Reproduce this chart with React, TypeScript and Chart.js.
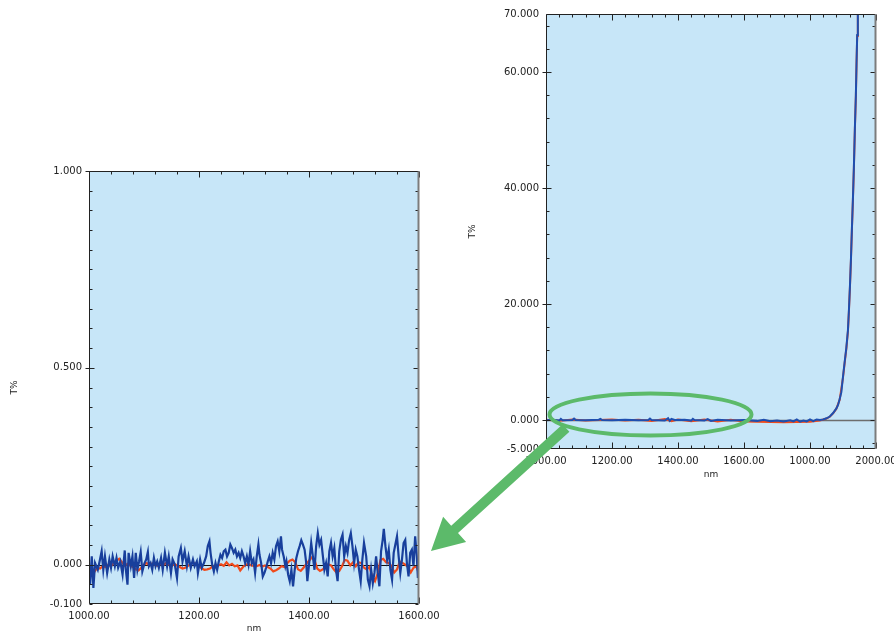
import React, { useEffect, useRef } from "react";
import { Chart, registerables } from "chart.js";

Chart.register(...registerables);

// ---------- axis ticks ----------
const LEFT_X_TICKS = [1000, 1200, 1400, 1600];
const LEFT_Y_TICKS = [-0.1, 0, 0.5, 1.0];
const RIGHT_X_TICKS = [1000, 1200, 1400, 1600, 1800, 2000];
const RIGHT_X_LABELS = ["1000.00", "1200.00", "1400.00", "1600.00", "1000.00", "2000.00"];
const RIGHT_Y_TICKS = [-5, 0, 20, 40, 60, 70];

// ---------- spectra: [wavelength nm, T%] ----------
// zoomed view 1000–1600 nm, sample A (blue)
const LEFT_BLUE: [number, number][] = [
  [1000, -0.004], [1002, -0.05], [1005, 0.021], [1008, -0.059], [1011, 0.004], [1016, -0.013],
  [1020, 0.013], [1023, 0.034], [1026, -0.013], [1029, 0.021], [1033, -0.021], [1037, 0.013],
  [1040, -0.008], [1043, 0.021], [1047, -0.004], [1050, 0.017], [1053, -0.008], [1057, 0.008],
  [1061, -0.025], [1065, 0.036], [1067, -0.013], [1070, -0.051], [1072, 0.03], [1076, -0.004],
  [1079, 0.021], [1082, -0.034], [1085, 0.03], [1088, -0.013], [1091, 0.008], [1094, 0.032],
  [1097, -0.017], [1101, 0.004], [1104, 0.013], [1107, 0.032], [1109, -0.004], [1112, 0.004],
  [1115, -0.013], [1118, 0.017], [1121, -0.004], [1124, 0.008], [1127, -0.008], [1131, 0.017],
  [1134, -0.013], [1138, 0.03], [1142, -0.004], [1145, 0.021], [1149, -0.021], [1152, 0.013],
  [1156, 0.0], [1160, -0.034], [1163, 0.021], [1167, 0.042], [1170, 0.008], [1174, 0.034],
  [1178, -0.004], [1181, 0.021], [1185, -0.008], [1189, 0.013], [1192, -0.004], [1196, 0.008],
  [1198, -0.021], [1202, 0.013], [1205, -0.008], [1209, 0.004], [1213, 0.021], [1216, 0.047],
  [1219, 0.059], [1221, 0.03], [1224, 0.0], [1227, -0.017], [1230, 0.004], [1233, -0.013],
  [1236, 0.008], [1239, 0.025], [1242, 0.017], [1245, 0.034], [1248, 0.038], [1251, 0.021],
  [1254, 0.03], [1257, 0.051], [1260, 0.042], [1263, 0.03], [1266, 0.038], [1269, 0.021],
  [1272, 0.03], [1275, 0.017], [1278, 0.034], [1281, 0.021], [1284, 0.004], [1287, 0.021],
  [1290, 0.0], [1293, 0.034], [1296, 0.004], [1299, 0.013], [1302, -0.021], [1305, 0.021],
  [1308, 0.051], [1310, 0.025], [1313, 0.004], [1316, -0.03], [1319, -0.021], [1322, -0.008],
  [1325, 0.008], [1328, 0.021], [1331, 0.004], [1334, 0.03], [1337, 0.013], [1340, 0.047],
  [1343, 0.059], [1346, 0.034], [1349, 0.072], [1351, 0.038], [1354, 0.021], [1357, -0.004],
  [1359, 0.008], [1362, -0.025], [1365, -0.042], [1368, -0.013], [1371, -0.055], [1374, -0.013],
  [1377, 0.017], [1380, 0.034], [1383, 0.047], [1386, 0.062], [1389, 0.051], [1392, 0.038],
  [1395, 0.004], [1397, -0.042], [1401, 0.013], [1404, 0.055], [1407, 0.021], [1410, -0.013],
  [1413, 0.047], [1416, 0.08], [1419, 0.051], [1422, 0.063], [1425, 0.025], [1428, -0.013],
  [1431, 0.004], [1434, -0.03], [1437, 0.034], [1440, 0.055], [1443, 0.021], [1446, 0.042],
  [1449, -0.013], [1452, -0.042], [1455, 0.034], [1458, 0.063], [1461, 0.076], [1464, 0.021],
  [1467, 0.047], [1470, 0.03], [1473, 0.063], [1476, 0.08], [1479, 0.047], [1482, 0.004],
  [1485, 0.038], [1488, 0.021], [1491, -0.013], [1494, -0.042], [1497, 0.013], [1500, 0.055],
  [1504, 0.021], [1507, -0.038], [1510, -0.055], [1513, -0.013], [1516, -0.047], [1519, -0.021],
  [1522, 0.021], [1525, -0.021], [1528, -0.055], [1531, 0.034], [1534, 0.063], [1536, 0.091],
  [1539, 0.047], [1542, 0.013], [1545, 0.038], [1548, -0.013], [1551, -0.038], [1554, 0.03],
  [1557, 0.051], [1560, 0.072], [1563, 0.021], [1566, -0.021], [1569, 0.013], [1572, 0.055],
  [1575, 0.063], [1578, 0.004], [1581, -0.03], [1584, 0.03], [1587, 0.038], [1590, -0.004],
  [1593, 0.072], [1596, 0.021], [1598, -0.034], [1600, -0.013],
];

// zoomed view 1000–1600 nm, sample B (red)
const LEFT_RED: [number, number][] = [
  [1000, -0.015], [1005, -0.012], [1010, -0.018], [1015, -0.008], [1020, -0.01], [1025, -0.004],
  [1030, -0.006], [1035, 0.0], [1040, -0.004], [1045, 0.004], [1050, 0.01], [1055, 0.015],
  [1060, 0.006], [1065, -0.003], [1070, 0.002], [1075, -0.002], [1080, -0.006], [1085, -0.012],
  [1090, -0.015], [1095, -0.008], [1100, 0.0], [1105, 0.004], [1110, -0.002], [1115, 0.003],
  [1120, 0.0], [1125, -0.003], [1130, 0.002], [1135, -0.001], [1140, 0.004], [1145, 0.0],
  [1150, -0.004], [1155, 0.002], [1160, -0.002], [1165, -0.006], [1170, -0.01], [1175, -0.008],
  [1180, -0.003], [1185, 0.002], [1190, 0.005], [1195, 0.0], [1200, -0.003], [1205, -0.01],
  [1210, -0.013], [1215, -0.012], [1220, -0.01], [1225, -0.004], [1230, -0.005], [1235, -0.002],
  [1240, 0.001], [1245, -0.003], [1250, 0.006], [1255, -0.002], [1260, 0.002], [1265, -0.004],
  [1270, -0.002], [1275, -0.015], [1280, -0.006], [1285, 0.0], [1290, 0.002], [1295, -0.002],
  [1300, -0.003], [1305, -0.004], [1310, -0.001], [1315, -0.005], [1320, -0.002], [1325, -0.006],
  [1330, -0.01], [1335, -0.017], [1340, -0.014], [1345, -0.01], [1350, -0.004], [1355, -0.006],
  [1360, 0.003], [1365, 0.01], [1370, 0.013], [1375, 0.006], [1380, -0.012], [1385, -0.016],
  [1390, -0.008], [1395, 0.002], [1400, 0.01], [1405, 0.018], [1410, 0.012], [1415, -0.01],
  [1420, -0.016], [1425, -0.012], [1430, -0.006], [1435, 0.001], [1440, -0.002], [1445, -0.012],
  [1450, -0.02], [1455, -0.016], [1460, -0.004], [1465, 0.012], [1470, 0.01], [1475, -0.002],
  [1480, 0.006], [1485, -0.004], [1490, 0.006], [1495, 0.004], [1500, -0.008], [1505, -0.012],
  [1510, -0.006], [1515, -0.03], [1520, -0.042], [1525, -0.022], [1530, 0.012], [1535, 0.015],
  [1540, 0.006], [1545, 0.004], [1550, -0.004], [1555, -0.02], [1560, -0.012], [1565, 0.008],
  [1570, 0.004], [1575, 0.0], [1580, -0.006], [1585, -0.02], [1590, -0.008], [1595, -0.004],
  [1600, -0.022],
];

// full view 1000–2000 nm, sample A (blue)
const RIGHT_BLUE: [number, number][] = [
  [1000, -0.05], [1020, 0.05], [1040, -0.1], [1045, 0.2], [1050, -0.05], [1080, 0.0], [1085, 0.25],
  [1090, 0.0], [1120, -0.05], [1160, 0.05], [1165, 0.2], [1170, 0.0], [1200, -0.05], [1240, 0.05],
  [1280, -0.05], [1310, 0.0], [1315, 0.25], [1320, 0.0], [1360, -0.1], [1370, 0.3], [1375, -0.15],
  [1380, 0.2], [1390, 0.0], [1420, 0.05], [1440, -0.1], [1445, 0.2], [1450, 0.0], [1480, -0.1],
  [1490, 0.15], [1500, -0.15], [1520, 0.05], [1560, -0.1], [1600, 0.0], [1640, -0.15], [1660, 0.05],
  [1680, -0.2], [1700, -0.1], [1720, -0.25], [1740, -0.05], [1750, -0.25], [1760, 0.1], [1770, -0.3],
  [1780, -0.1], [1790, -0.25], [1800, 0.1], [1810, -0.2], [1820, 0.1], [1830, 0.0], [1840, 0.1],
  [1850, 0.3], [1860, 0.6], [1870, 1.2], [1880, 2.0], [1885, 2.6], [1890, 3.6], [1895, 4.8],
  [1900, 7.5], [1905, 10.0], [1910, 12.4], [1915, 15.5], [1918, 19.0], [1921, 23.0], [1924, 27.6],
  [1927, 33.0], [1930, 38.0], [1933, 43.6], [1936, 50.3], [1939, 56.0], [1941, 61.5], [1943, 66.4],
  [1945, 70.0], [1948, 74.0],
];

// full view 1000–2000 nm, sample B (red)
const RIGHT_RED: [number, number][] = [
  [1000, 0.05], [1040, -0.15], [1080, 0.1], [1120, -0.1], [1160, 0.0], [1200, 0.1], [1240, -0.1],
  [1280, 0.05], [1320, -0.15], [1360, 0.15], [1380, -0.2], [1400, 0.1], [1440, -0.2], [1480, 0.1],
  [1520, -0.25], [1560, 0.05], [1600, -0.25], [1640, -0.3], [1680, -0.35], [1720, -0.4], [1760, -0.35],
  [1800, -0.3], [1830, -0.1], [1850, 0.25], [1860, 0.55], [1870, 1.15], [1880, 1.95], [1890, 3.5],
  [1900, 7.3], [1905, 9.8], [1910, 12.2], [1915, 15.3], [1918, 18.8], [1921, 22.8], [1924, 27.4],
  [1927, 32.8], [1930, 37.8], [1933, 43.4], [1936, 50.1], [1939, 55.8], [1941, 61.3], [1943, 66.2],
  [1945, 69.8], [1948, 73.8],
];

// ---------- styling ----------
const PLOT_BG = "#c7e6f8";
const BLUE_DARK = "#183f9c";
const BLUE_BRIGHT = "#1e4fb0";
const RED = "#f04b1c";
const TEXT = "#222222";
const GREEN = "#5cba6a";
const TICK_FONT = { family: "'DejaVu Sans', sans-serif", size: 10 };
const TITLE_FONT = { family: "'DejaVu Sans', sans-serif", size: 9, lineHeight: 1 };

// Plot frame with inward-pointing minor/major tick marks and a zero line.
const framePlugin = {
  id: "frame",
  beforeDatasetsDraw(chart: any, _a: any, o: any) {
    const { ctx, chartArea: a, scales } = chart;
    ctx.save();
    ctx.fillStyle = PLOT_BG;
    ctx.fillRect(a.left, a.top, a.right - a.left, a.bottom - a.top);
    const y0 = Math.round(scales.y.getPixelForValue(0)) + 0.5;
    ctx.strokeStyle = o.zeroColor;
    ctx.lineWidth = o.zeroWidth;
    ctx.beginPath();
    ctx.moveTo(a.left, y0);
    ctx.lineTo(a.right, y0);
    ctx.stroke();
    ctx.restore();
  },
  afterDatasetsDraw(chart: any, _a: any, o: any) {
    const { ctx, chartArea: a, scales } = chart;
    const L = Math.round(a.left) + 0.5;
    const R = Math.round(a.right) - 0.5;
    const T = Math.round(a.top) + 0.5;
    const B = Math.round(a.bottom) - 0.5;
    const isMajor = (v: number, step: number) => Math.abs(v / step - Math.round(v / step)) < 1e-6;
    ctx.save();
    ctx.lineWidth = 1;
    ctx.strokeStyle = "#222";
    ctx.beginPath();
    // x ticks (bottom and top edges)
    const xs = scales.x;
    for (let k = Math.ceil(xs.min / o.xMinor); k * o.xMinor <= xs.max + 1e-9; k++) {
      const v = k * o.xMinor;
      const px = Math.round(xs.getPixelForValue(v)) + 0.5;
      const len = isMajor(v, o.xMajor) ? 6 : 3;
      ctx.moveTo(px, B);
      ctx.lineTo(px, B - len);
      ctx.moveTo(px, T);
      ctx.lineTo(px, T + len);
    }
    // y ticks (left and right edges)
    const ys = scales.y;
    for (let k = Math.ceil(ys.min / o.yMinor - 1e-9); k * o.yMinor <= ys.max + 1e-9; k++) {
      const v = k * o.yMinor;
      const py = Math.round(ys.getPixelForValue(v)) + 0.5;
      const major = isMajor(v, o.yMajor);
      const len = major ? 5 : 3;
      ctx.moveTo(major ? L - 4 : L, py);
      ctx.lineTo(L + len, py);
      ctx.moveTo(R, py);
      ctx.lineTo(R - len, py);
    }
    ctx.stroke();
    // frame
    ctx.beginPath();
    ctx.moveTo(R, T);
    ctx.lineTo(L, T);
    ctx.lineTo(L, B);
    ctx.lineTo(R, B);
    ctx.stroke();
    ctx.strokeStyle = "#7c7c7c";
    ctx.lineWidth = 2;
    ctx.beginPath();
    ctx.moveTo(R, T);
    ctx.lineTo(R, B);
    ctx.stroke();
    ctx.restore();
  },
};

type PanelSpec = {
  blue: [number, number][];
  red: [number, number][];
  blueColor: string;
  lineWidth: number;
  xMin: number;
  xMax: number;
  yMin: number;
  yMax: number;
  xTicks: number[];
  xLabel: (v: number) => string;
  yTicks: number[];
  yDigits: number;
  yAxisWidth: number;
  xAxisHeight: number;
  padding: { top: number; right: number; left: number; bottom: number };
  yTitlePad: number;
  xTitlePad: number;
  frame: any;
};

function buildConfig(p: PanelSpec): any {
  const series = (pts: [number, number][], color: string) => ({
    data: pts.map(([x, y]) => ({ x, y })),
    borderColor: color,
    borderWidth: p.lineWidth,
    pointRadius: 0,
    tension: 0,
    fill: false,
  });
  return {
    type: "line",
    // first dataset is painted last, so the blue trace sits above the red one
    data: { datasets: [series(p.blue, p.blueColor), series(p.red, RED)] },
    options: {
      animation: false,
      responsive: false,
      maintainAspectRatio: false,
      layout: { padding: p.padding, autoPadding: false },
      plugins: { legend: { display: false }, tooltip: { enabled: false }, frame: p.frame },
      scales: {
        x: {
          type: "linear",
          min: p.xMin,
          max: p.xMax,
          afterBuildTicks: (s: any) => {
            s.ticks = p.xTicks.map((value) => ({ value }));
          },
          afterFit: (s: any) => {
            s.height = p.xAxisHeight;
            s.paddingLeft = 0;
            s.paddingRight = 0;
          },
          grid: { display: false, drawTicks: false },
          border: { display: false },
          ticks: {
            autoSkip: false,
            maxRotation: 0,
            padding: 6,
            color: TEXT,
            font: TICK_FONT,
            callback: (v: number) => p.xLabel(v),
          },
          title: {
            display: true,
            text: "nm",
            color: TEXT,
            font: TITLE_FONT,
            padding: { top: 0, bottom: p.xTitlePad },
          },
        },
        y: {
          type: "linear",
          min: p.yMin,
          max: p.yMax,
          afterBuildTicks: (s: any) => {
            s.ticks = p.yTicks.map((value) => ({ value }));
          },
          afterFit: (s: any) => {
            s.width = p.yAxisWidth;
            s.paddingTop = 0;
            s.paddingBottom = 0;
          },
          grid: { display: false, drawTicks: false },
          border: { display: false },
          ticks: {
            autoSkip: false,
            padding: 7,
            color: TEXT,
            font: TICK_FONT,
            callback: (v: number) => Number(v).toFixed(p.yDigits),
          },
          title: {
            display: true,
            text: "T%",
            color: TEXT,
            font: TITLE_FONT,
            padding: { top: p.yTitlePad, bottom: 0 },
          },
        },
      },
    },
    plugins: [framePlugin],
  };
}

const LEFT_PANEL: PanelSpec = {
  blue: LEFT_BLUE,
  red: LEFT_RED,
  blueColor: BLUE_DARK,
  lineWidth: 2.2,
  xMin: 1000,
  xMax: 1600,
  yMin: -0.1,
  yMax: 1.0,
  xTicks: LEFT_X_TICKS,
  xLabel: (v) => v.toFixed(2),
  yTicks: LEFT_Y_TICKS,
  yDigits: 3,
  yAxisWidth: 89,
  xAxisHeight: 29,
  padding: { top: 21, right: 21, left: 0, bottom: 0 },
  yTitlePad: 10,
  xTitlePad: 0,
  frame: { xMinor: 40, xMajor: 200, yMinor: 0.05, yMajor: 0.5, zeroColor: "#111", zeroWidth: 1 },
};

const RIGHT_PANEL: PanelSpec = {
  blue: RIGHT_BLUE,
  red: RIGHT_RED,
  blueColor: BLUE_BRIGHT,
  lineWidth: 2,
  xMin: 1000,
  xMax: 2000,
  yMin: -5,
  yMax: 70,
  xTicks: RIGHT_X_TICKS,
  xLabel: (v) => RIGHT_X_LABELS[RIGHT_X_TICKS.indexOf(v)] ?? "",
  yTicks: RIGHT_Y_TICKS,
  yDigits: 3,
  yAxisWidth: 86,
  xAxisHeight: 31,
  padding: { top: 14, right: 18, left: 0, bottom: 0 },
  yTitlePad: 8,
  xTitlePad: 1,
  frame: { xMinor: 40, xMajor: 200, yMinor: 4, yMajor: 20, zeroColor: "#6e6e6e", zeroWidth: 1.5 },
};

function Panel({ spec, left, top, width, height }: { spec: PanelSpec; left: number; top: number; width: number; height: number }) {
  const ref = useRef<HTMLCanvasElement>(null);
  useEffect(() => {
    if (!ref.current) return;
    const chart = new Chart(ref.current, buildConfig(spec));
    return () => chart.destroy();
  }, [spec]);
  return (
    <canvas
      ref={ref}
      width={width}
      height={height}
      style={{ position: "absolute", left, top, width, height }}
    />
  );
}

export default function App() {
  return (
    <div
      style={{
        position: "fixed",
        left: 0,
        top: 0,
        width: 894,
        height: 633,
        overflow: "hidden",
        background: "#ffffff",
      }}
    >
      <Panel spec={LEFT_PANEL} left={0} top={150} width={440} height={483} />
      <Panel spec={RIGHT_PANEL} left={460} top={0} width={434} height={480} />
      <svg
        width={894}
        height={633}
        style={{ position: "absolute", left: 0, top: 0, pointerEvents: "none" }}
      >
        <ellipse cx={650.5} cy={414.5} rx={101} ry={21} fill="none" stroke={GREEN} strokeWidth={4} />
        <polygon
          points="569.4,431.7 458.0,533.1 466.1,542.0 431,551 443.1,516.8 451.2,525.7 562.6,424.3"
          fill={GREEN}
        />
      </svg>
    </div>
  );
}
